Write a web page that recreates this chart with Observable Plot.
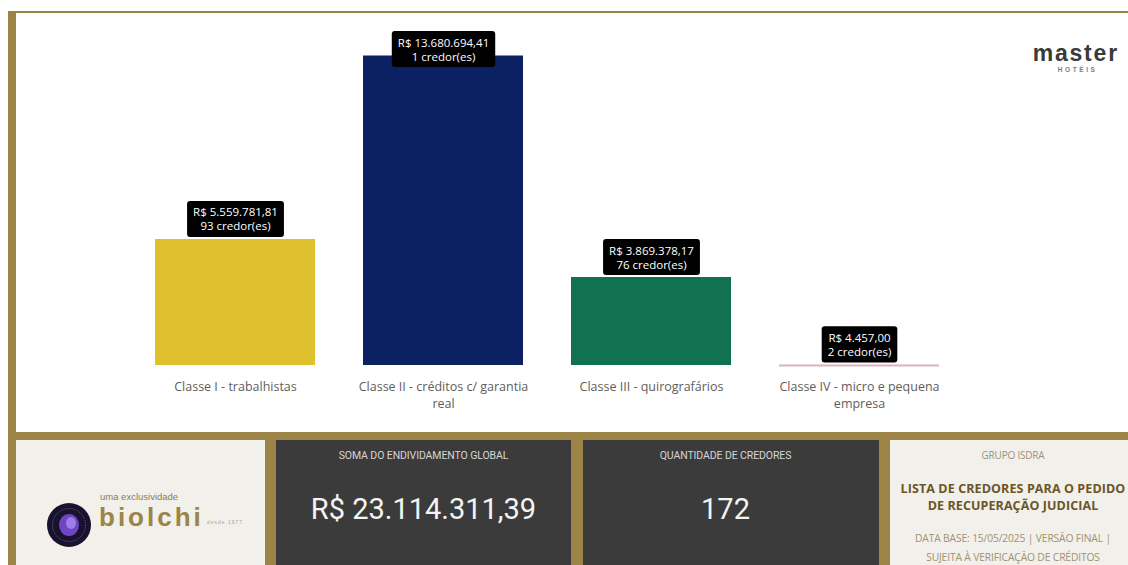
<!DOCTYPE html>
<html><head><meta charset="utf-8">
<script src="https://cdn.jsdelivr.net/npm/d3@7"></script>
<script src="https://cdn.jsdelivr.net/npm/@observablehq/plot@0.6"></script>
<style>
html,body{margin:0;padding:0;background:#fff;}
#root{position:relative;width:1128px;height:565px;overflow:hidden;background:#fff;font-family:"Open Sans",sans-serif;}
.abs{position:absolute;}
.gold{background:#9c8446;}
.panel{position:absolute;top:440px;height:125px;}
.beige{background:#f2f0ea;}
.dark{background:#3b3b3b;}
.ptitle{position:absolute;left:0;right:0;text-align:center;font-family:Roboto,sans-serif;font-size:10.5px;line-height:1;color:#d6d6d6;letter-spacing:-0.1px;}
.pvalue{position:absolute;left:0;right:0;text-align:center;font-family:Roboto,sans-serif;font-size:29px;color:#f4f4f4;line-height:1;}
#chart{position:absolute;left:16px;top:13px;}
.lib{font-family:"Liberation Sans",Arial,sans-serif;}
</style></head>
<body><div id="root">
  <div class="abs gold" style="left:8px;top:11px;width:1120px;height:2px"></div>
  <div class="abs gold" style="left:8px;top:11px;width:8px;height:554px"></div>
  <div class="abs gold" style="left:8px;top:432px;width:1120px;height:133px"></div>
  <div id="chart"></div>
  <div class="abs lib" style="left:1019px;top:42px;width:110px;text-align:center;font-weight:700;font-size:23px;line-height:23px;color:#3a3a3a;letter-spacing:1.8px;padding-left:1.8px">master</div>
  <div class="abs lib" style="left:1025px;top:67.1px;width:100px;text-align:center;font-weight:700;font-size:6.5px;line-height:6.5px;color:#7d7d7d;letter-spacing:2.6px;padding-left:2.6px">HOTÉIS</div>

  <div class="panel beige" style="left:16px;width:249px">
    <svg class="abs" style="left:31px;top:63px" width="44" height="44" viewBox="0 0 44 44">
      <circle cx="22" cy="22" r="22" fill="#18122e"/>
      <circle cx="22" cy="22" r="16.5" fill="none" stroke="#8f86b8" stroke-width="0.6" stroke-dasharray="1 1"/>
      <ellipse cx="22" cy="22" rx="10" ry="11" fill="#6e46c4"/>
      <ellipse cx="24" cy="20" rx="5" ry="6" fill="#a07de8"/>
    </svg>
    <div class="abs lib" style="left:84px;top:51.5px;font-size:9.5px;color:#8d7d52;line-height:9.5px">uma exclusividade</div>
    <div class="abs lib" style="left:83px;top:64px;font-size:26px;font-weight:700;color:#9c8446;line-height:26px;letter-spacing:3px">biolchi</div>
    <div class="abs lib" style="left:191px;top:80px;font-size:5px;color:#b3a47c;line-height:5px;letter-spacing:1px">desde 1977</div>
  </div>
  <div class="panel dark" style="left:276px;width:295px">
    <div class="ptitle" id="t1" style="top:10.75px">SOMA DO ENDIVIDAMENTO GLOBAL</div>
    <div class="pvalue" id="v1" style="top:55px"></div>
  </div>
  <div class="panel dark" style="left:583px;width:296px">
    <div class="ptitle" id="t2" style="top:10.75px;right:11px">QUANTIDADE DE CREDORES</div>
    <div class="pvalue" id="v2" style="top:55px;right:11px"></div>
  </div>
  <div class="panel beige" style="left:890px;width:238px;text-align:center">
    <div class="abs" style="left:0;width:246px;top:10px;font-size:10px;color:#9a9280;letter-spacing:-0.2px;line-height:1">GRUPO ISDRA</div>
    <div class="abs" style="left:-10px;width:266px;top:39.5px;font-size:12.5px;font-weight:700;color:#6b5626;line-height:17px;letter-spacing:0.1px">LISTA DE CREDORES PARA O PEDIDO<br>DE RECUPERAÇÃO JUDICIAL</div>
    <div class="abs" style="left:0;width:246px;top:88.5px;font-size:10.3px;color:#a09274;line-height:19px;letter-spacing:-0.15px">DATA BASE: 15/05/2025 | VERSÃO FINAL |<br>SUJEITA À VERIFICAÇÃO DE CRÉDITOS</div>
  </div>
</div>
<script>
const categories = ["Classe I - trabalhistas", "Classe II - créditos c/ garantia real", "Classe III - quirografários", "Classe IV - micro e pequena empresa"];
const tickLabels = ["Classe I - trabalhistas", "Classe II - créditos c/ garantia\nreal", "Classe III - quirografários", "Classe IV - micro e pequena\nempresa"];
const values = [5559781.81, 13680694.41, 3869378.17, 4457.00];
const creditors = [93, 1, 76, 2];
const colors = ["#dfc130", "#0b2162", "#107250", "#d9b5bd"];

const locale = d3.formatLocale({decimal: ",", thousands: ".", grouping: [3], currency: ["R$ ", ""]});
const fmtMoney = locale.format("$,.2f");
const data = categories.map((c, i) => ({cat: c, value: values[i], n: creditors[i], color: colors[i]}));
const labelMap = new Map(categories.map((c, i) => [c, tickLabels[i]]));

document.getElementById("v1").textContent = fmtMoney(d3.sum(values));
document.getElementById("v2").textContent = String(d3.sum(creditors));

const chart = Plot.plot({
  width: 1112, height: 419,
  marginTop: 43, marginBottom: 67, marginLeft: 115, marginRight: 165,
  style: {background: "transparent", fontFamily: "'Open Sans', sans-serif", overflow: "visible"},
  x: {domain: categories, paddingInner: 48 / 208, paddingOuter: 24 / 208, axis: null},
  y: {domain: [0, d3.max(values)], axis: null},
  color: {type: "identity"},
  marks: [
    Plot.barY(data, {x: "cat", y: "value", fill: "color"}),
    Plot.tickY(data, {x: "cat", y: "value", stroke: "color", strokeWidth: 2}),
    Plot.axisX({tickSize: 0, tickPadding: 14, fontSize: 12.5, color: "#5f5d5b", lineHeight: 1.35, label: null, tickFormat: d => labelMap.get(d)}),
    Plot.text(data, {x: "cat", y: "value", text: d => fmtMoney(d.value) + "\n" + d.n + " credor(es)", lineAnchor: "bottom", dy: -9.5, fill: "white", fontSize: 11.5, lineHeight: 1.22, ariaLabel: () => "value-label"})
  ]
});
document.getElementById("chart").appendChild(chart);

// label boxes behind value labels (sized from the rendered text)
const ns = "http://www.w3.org/2000/svg";
const sr = chart.getBoundingClientRect();
const labelTexts = new Set([
  ...chart.querySelectorAll('text[aria-label="value-label"]'),
  ...chart.querySelectorAll('g[aria-label="value-label"] text')
]);
labelTexts.forEach(t => {
  const r = t.getBoundingClientRect();
  const m = t.parentNode.getScreenCTM();
  const padX = 6, padY = 3.5, minTop = 18;
  const x0 = r.left - m.e - padX, y0 = r.top - m.f - padY;
  const w = r.width + 2 * padX, h = r.height + 2 * padY;
  const topSvg = r.top - sr.top - padY;
  const shift = Math.max(0, minTop - topSvg);
  const g = document.createElementNS(ns, "g");
  g.setAttribute("transform", `translate(0,${shift})`);
  const rect = document.createElementNS(ns, "rect");
  rect.setAttribute("x", x0); rect.setAttribute("y", y0);
  rect.setAttribute("width", w); rect.setAttribute("height", h);
  rect.setAttribute("rx", 3); rect.setAttribute("fill", "#000");
  t.parentNode.insertBefore(g, t);
  g.appendChild(rect); g.appendChild(t);
});
</script>
</body></html>
